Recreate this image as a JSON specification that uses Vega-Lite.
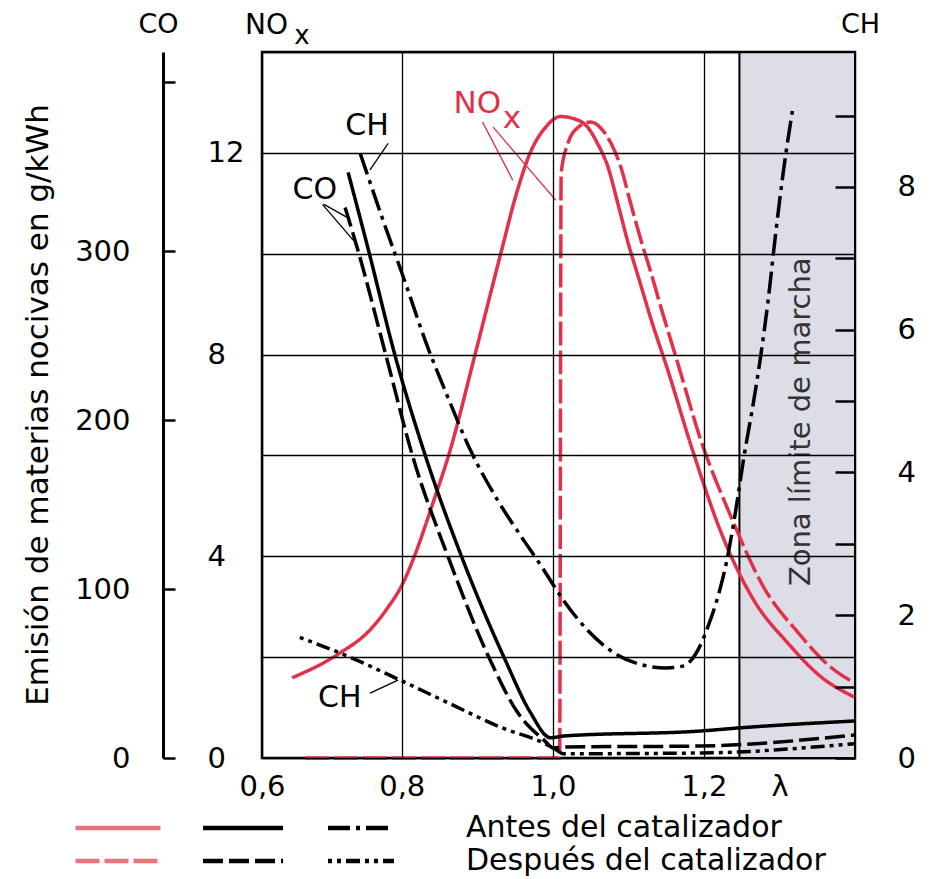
{
  "$schema": "https://vega.github.io/schema/vega-lite/v6.json",
  "width": 593,
  "height": 706,
  "autosize": {"type": "none"},
  "padding": {"left": 262, "top": 52, "right": 86, "bottom": 121},
  "background": "white",
  "config": {
    "font": "DejaVu Sans",
    "view": {"stroke": "black", "strokeWidth": 2.5},
    "axis": {
      "labelFont": "DejaVu Sans", "titleFont": "DejaVu Sans", "labelColor": "black", "titleColor": "black",
      "titleFontWeight": "normal", "labelFontSize": 29, "titleFontSize": 27,
      "gridColor": "black", "gridOpacity": 1, "gridWidth": 1.3, "domainColor": "black", "tickColor": "black"
    },
    "legend": {"labelFont": "DejaVu Sans", "labelColor": "black"}
  },
  "title": {
    "text": "Emisión de materias nocivas en g/kWh", "orient": "left", "anchor": "middle",
    "offset": 20, "fontSize": 31, "fontWeight": "normal", "font": "DejaVu Sans", "color": "black"
  },
  "datasets": {
    "nox": [
      {"lambda": 0.655, "valor": 1.59, "etapa": "Antes"},
      {"lambda": 0.718, "valor": 2.08, "etapa": "Antes"},
      {"lambda": 0.758, "valor": 2.54, "etapa": "Antes"},
      {"lambda": 0.78, "valor": 2.95, "etapa": "Antes"},
      {"lambda": 0.801, "valor": 3.45, "etapa": "Antes"},
      {"lambda": 0.818, "valor": 4.05, "etapa": "Antes"},
      {"lambda": 0.84, "valor": 5.0, "etapa": "Antes"},
      {"lambda": 0.864, "valor": 6.1, "etapa": "Antes"},
      {"lambda": 0.897, "valor": 8.0, "etapa": "Antes"},
      {"lambda": 0.931, "valor": 10.0, "etapa": "Antes"},
      {"lambda": 0.952, "valor": 11.2, "etapa": "Antes"},
      {"lambda": 0.97, "valor": 12.0, "etapa": "Antes"},
      {"lambda": 0.99, "valor": 12.5, "etapa": "Antes"},
      {"lambda": 1.01, "valor": 12.72, "etapa": "Antes"},
      {"lambda": 1.033, "valor": 12.65, "etapa": "Antes"},
      {"lambda": 1.046, "valor": 12.51, "etapa": "Antes"},
      {"lambda": 1.059, "valor": 12.19, "etapa": "Antes"},
      {"lambda": 1.073, "valor": 11.72, "etapa": "Antes"},
      {"lambda": 1.086, "valor": 11.0, "etapa": "Antes"},
      {"lambda": 1.099, "valor": 10.25, "etapa": "Antes"},
      {"lambda": 1.116, "valor": 9.4, "etapa": "Antes"},
      {"lambda": 1.13, "valor": 8.7, "etapa": "Antes"},
      {"lambda": 1.152, "valor": 7.7, "etapa": "Antes"},
      {"lambda": 1.185, "valor": 6.1, "etapa": "Antes"},
      {"lambda": 1.222, "valor": 4.5, "etapa": "Antes"},
      {"lambda": 1.266, "valor": 3.13, "etapa": "Antes"},
      {"lambda": 1.311, "valor": 2.28, "etapa": "Antes"},
      {"lambda": 1.355, "valor": 1.61, "etapa": "Antes"},
      {"lambda": 1.399, "valor": 1.21, "etapa": "Antes"},
      {"lambda": 0.672, "valor": 0, "etapa": "Después"},
      {"lambda": 1.009, "valor": 0, "etapa": "Después"},
      {"lambda": 1.011, "valor": 11.6, "etapa": "Después"},
      {"lambda": 1.02, "valor": 12.19, "etapa": "Después"},
      {"lambda": 1.033, "valor": 12.5, "etapa": "Después"},
      {"lambda": 1.05, "valor": 12.61, "etapa": "Después"},
      {"lambda": 1.063, "valor": 12.5, "etapa": "Después"},
      {"lambda": 1.077, "valor": 12.19, "etapa": "Después"},
      {"lambda": 1.09, "valor": 11.72, "etapa": "Después"},
      {"lambda": 1.103, "valor": 11.0, "etapa": "Después"},
      {"lambda": 1.116, "valor": 10.3, "etapa": "Después"},
      {"lambda": 1.13, "valor": 9.62, "etapa": "Después"},
      {"lambda": 1.143, "valor": 8.94, "etapa": "Después"},
      {"lambda": 1.165, "valor": 7.85, "etapa": "Después"},
      {"lambda": 1.196, "valor": 6.3, "etapa": "Después"},
      {"lambda": 1.236, "valor": 4.78, "etapa": "Después"},
      {"lambda": 1.279, "valor": 3.39, "etapa": "Después"},
      {"lambda": 1.325, "valor": 2.48, "etapa": "Después"},
      {"lambda": 1.368, "valor": 1.8, "etapa": "Después"},
      {"lambda": 1.399, "valor": 1.49, "etapa": "Después"}
    ],
    "co": [
      {"lambda": 0.729, "valor": 346.7, "etapa": "Antes"},
      {"lambda": 0.756, "valor": 300.6, "etapa": "Antes"},
      {"lambda": 0.791, "valor": 238.5, "etapa": "Antes"},
      {"lambda": 0.831, "valor": 179.3, "etapa": "Antes"},
      {"lambda": 0.88, "valor": 118.3, "etapa": "Antes"},
      {"lambda": 0.937, "valor": 58.0, "etapa": "Antes"},
      {"lambda": 0.97, "valor": 27.2, "etapa": "Antes"},
      {"lambda": 0.997, "valor": 12.0, "etapa": "Antes"},
      {"lambda": 1.014, "valor": 13.0, "etapa": "Antes"},
      {"lambda": 1.196, "valor": 16.0, "etapa": "Antes"},
      {"lambda": 1.246, "valor": 17.8, "etapa": "Antes"},
      {"lambda": 1.399, "valor": 21.9, "etapa": "Antes"},
      {"lambda": 0.725, "valor": 326.0, "etapa": "Después"},
      {"lambda": 0.742, "valor": 300.6, "etapa": "Después"},
      {"lambda": 0.779, "valor": 238.5, "etapa": "Después"},
      {"lambda": 0.814, "valor": 179.3, "etapa": "Después"},
      {"lambda": 0.862, "valor": 118.3, "etapa": "Después"},
      {"lambda": 0.917, "valor": 58.0, "etapa": "Después"},
      {"lambda": 0.953, "valor": 27.2, "etapa": "Después"},
      {"lambda": 0.988, "valor": 10.7, "etapa": "Después"},
      {"lambda": 1.001, "valor": 5.9, "etapa": "Después"},
      {"lambda": 1.014, "valor": 6.5, "etapa": "Después"},
      {"lambda": 1.196, "valor": 7.1, "etapa": "Después"},
      {"lambda": 1.399, "valor": 13.6, "etapa": "Después"}
    ],
    "ch": [
      {"lambda": 0.745, "valor": 8.47, "etapa": "Antes"},
      {"lambda": 0.775, "valor": 7.54, "etapa": "Antes"},
      {"lambda": 0.805, "valor": 6.65, "etapa": "Antes"},
      {"lambda": 0.831, "valor": 5.85, "etapa": "Antes"},
      {"lambda": 0.86, "valor": 5.08, "etapa": "Antes"},
      {"lambda": 0.891, "valor": 4.31, "etapa": "Antes"},
      {"lambda": 0.927, "valor": 3.61, "etapa": "Antes"},
      {"lambda": 0.957, "valor": 3.12, "etapa": "Antes"},
      {"lambda": 0.984, "valor": 2.7, "etapa": "Antes"},
      {"lambda": 1.014, "valor": 2.21, "etapa": "Antes"},
      {"lambda": 1.046, "valor": 1.79, "etapa": "Antes"},
      {"lambda": 1.086, "valor": 1.44, "etapa": "Antes"},
      {"lambda": 1.12, "valor": 1.3, "etapa": "Antes"},
      {"lambda": 1.15, "valor": 1.26, "etapa": "Antes"},
      {"lambda": 1.173, "valor": 1.29, "etapa": "Antes"},
      {"lambda": 1.192, "valor": 1.51, "etapa": "Antes"},
      {"lambda": 1.205, "valor": 1.83, "etapa": "Antes"},
      {"lambda": 1.218, "valor": 2.24, "etapa": "Antes"},
      {"lambda": 1.229, "valor": 2.7, "etapa": "Antes"},
      {"lambda": 1.24, "valor": 3.33, "etapa": "Antes"},
      {"lambda": 1.253, "valor": 4.22, "etapa": "Antes"},
      {"lambda": 1.266, "valor": 5.01, "etapa": "Antes"},
      {"lambda": 1.275, "valor": 5.62, "etapa": "Antes"},
      {"lambda": 1.285, "valor": 6.41, "etapa": "Antes"},
      {"lambda": 1.295, "valor": 7.35, "etapa": "Antes"},
      {"lambda": 1.306, "valor": 8.28, "etapa": "Antes"},
      {"lambda": 1.318, "valor": 9.12, "etapa": "Antes"},
      {"lambda": 0.665, "valor": 1.69, "etapa": "Después"},
      {"lambda": 0.732, "valor": 1.41, "etapa": "Después"},
      {"lambda": 0.798, "valor": 1.09, "etapa": "Después"},
      {"lambda": 0.864, "valor": 0.76, "etapa": "Después"},
      {"lambda": 0.931, "valor": 0.43, "etapa": "Después"},
      {"lambda": 0.988, "valor": 0.21, "etapa": "Después"},
      {"lambda": 1.001, "valor": 0.14, "etapa": "Después"},
      {"lambda": 1.014, "valor": 0.06, "etapa": "Después"},
      {"lambda": 1.196, "valor": 0.07, "etapa": "Después"},
      {"lambda": 1.399, "valor": 0.2, "etapa": "Después"}
    ]
  },
  "encoding": {
    "x": {
      "field": "lambda", "type": "quantitative",
      "scale": {"domain": [0.615, 1.4], "nice": false, "zero": false},
      "axis": {
        "title": null, "values": [0.615, 0.8, 1.0, 1.2, 1.3],
        "labelExpr": "datum.value < 0.7 ? '0,6' : (datum.value > 1.25 ? 'λ' : replace(format(datum.value, '.1f'), '.', ','))",
        "domain": false, "ticks": false, "grid": true,
        "gridOpacity": {"condition": {"test": "datum.value > 1.25", "value": 0}, "value": 1},
        "labelPadding": 14, "labelFlush": false, "zindex": 1
      }
    }
  },
  "layer": [
    {
      "data": {"values": [{"lambda": 1.247, "fin": 1.4}]},
      "mark": {"type": "rect", "fill": "#dcdde6", "stroke": "black", "strokeWidth": 2},
      "encoding": {"x2": {"field": "fin"}}
    },
    {
      "data": {"name": "nox"},
      "layer": [
        {
          "mark": {"type": "line", "color": "#e2304a", "strokeWidth": 3.5, "interpolate": "monotone"},
          "encoding": {
            "y": {
              "field": "valor", "type": "quantitative", "scale": {"domain": [0, 14], "nice": false},
              "axis": {
                "orient": "left", "values": [0, 2, 4, 6, 8, 10, 12, 14],
                "labelExpr": "datum.value % 4 == 0 && datum.value < 14 ? datum.label : ''",
                "domain": false, "ticks": false, "grid": true, "labelPadding": 55, "labelAlign": "left",
                "title": "NO", "titleFontSize": 28, "titleAngle": 0, "titleX": 4, "titleY": -27, "titleAlign": "center", "titleBaseline": "middle",
                "zindex": 1
              }
            },
            "strokeDash": {
              "field": "etapa", "type": "nominal",
              "scale": {"domain": ["Antes", "Después"], "range": [[1, 0], [24, 5]]},
              "legend": {
                "orient": "none", "legendX": -159, "legendY": 761, "direction": "vertical", "title": null,
                "symbolType": "M-4.25,0H4.25", "symbolSize": 400, "symbolStrokeWidth": 4.5, "symbolStrokeColor": "#e8747c",
                "labelExpr": "' '", "labelFontSize": 30, "padding": 0, "rowPadding": 3
              }
            }
          }
        },
        {
          "data": {"values": [
            {"lambda": 0.907, "valor": 12.61, "id": "a"}, {"lambda": 0.947, "valor": 11.46, "id": "a"},
            {"lambda": 0.921, "valor": 12.51, "id": "b"}, {"lambda": 1.004, "valor": 11.06, "id": "b"}
          ]},
          "mark": {"type": "line", "color": "#e2304a", "strokeWidth": 1.3},
          "encoding": {"y": {"field": "valor", "type": "quantitative"}, "detail": {"field": "id"}}
        },
        {
          "data": {"values": [
            {"lambda": 0.9, "valor": 12.97, "t": "NO"},
            {"lambda": 0.946, "valor": 12.68, "t": "x"}
          ]},
          "mark": {"type": "text", "color": "#e2304a", "fontSize": 31, "font": "DejaVu Sans"},
          "encoding": {"y": {"field": "valor", "type": "quantitative"}, "text": {"field": "t"}}
        },
        {
          "data": {"values": [{"lambda": 0.668, "valor": 14.32, "t": "x"}]},
          "mark": {"type": "text", "color": "black", "fontSize": 26, "font": "DejaVu Sans"},
          "encoding": {"y": {"field": "valor", "type": "quantitative"}, "text": {"field": "t"}}
        }
      ]
    },
    {
      "data": {"name": "co"},
      "layer": [
        {
          "mark": {"type": "line", "color": "black", "strokeWidth": 3.5, "interpolate": "monotone"},
          "encoding": {
            "y": {
              "field": "valor", "type": "quantitative", "scale": {"domain": [0, 418], "nice": false},
              "axis": {
                "orient": "left", "offset": 99, "values": [0, 100, 200, 300, 400],
                "labelExpr": "datum.value == 400 ? '' : datum.label",
                "domain": true, "domainWidth": 3, "ticks": true, "tickSize": -12, "tickWidth": 2.5,
                "grid": false, "labelPadding": 45,
                "title": "CO", "titleAngle": 0, "titleX": -5, "titleY": -28, "titleAlign": "center", "titleBaseline": "middle"
              }
            },
            "strokeDash": {
              "field": "etapa", "type": "nominal",
              "scale": {"domain": ["Antes", "Después"], "range": [[1, 0], [20, 6]]},
              "legend": {
                "orient": "none", "legendX": -34, "legendY": 761, "direction": "vertical", "title": null,
                "symbolType": "M-4,0H4", "symbolSize": 400, "symbolStrokeWidth": 4.5, "symbolStrokeColor": "black",
                "labelExpr": "' '", "labelFontSize": 30, "padding": 0, "rowPadding": 3
              }
            }
          }
        },
        {
          "data": {"values": [
            {"lambda": 0.695, "valor": 327.8, "id": "a"}, {"lambda": 0.736, "valor": 306.5, "id": "a"},
            {"lambda": 0.697, "valor": 327.8, "id": "b"}, {"lambda": 0.73, "valor": 319.5, "id": "b"}
          ]},
          "mark": {"type": "line", "color": "black", "strokeWidth": 1.3},
          "encoding": {"y": {"field": "valor", "type": "quantitative"}, "detail": {"field": "id"}}
        },
        {
          "data": {"values": [{"lambda": 0.685, "valor": 336, "t": "CO"}]},
          "mark": {"type": "text", "color": "black", "fontSize": 30, "font": "DejaVu Sans"},
          "encoding": {"y": {"field": "valor", "type": "quantitative"}, "text": {"field": "t"}}
        }
      ]
    },
    {
      "data": {"name": "ch"},
      "layer": [
        {
          "mark": {"type": "line", "color": "black", "strokeWidth": 3.5, "interpolate": "monotone"},
          "encoding": {
            "y": {
              "field": "valor", "type": "quantitative", "scale": {"domain": [0, 9.89], "nice": false},
              "axis": {
                "orient": "right", "values": [0, 1, 2, 3, 4, 5, 6, 7, 8, 9],
                "labelExpr": "datum.value % 2 == 0 ? format(datum.value, 'd') : ''",
                "domain": false, "ticks": true, "tickSize": -20, "tickWidth": 2.5,
                "grid": false, "labelPadding": 62, "zindex": 1,
                "title": "CH", "titleAngle": 0, "titleX": 5, "titleY": -28, "titleAlign": "center", "titleBaseline": "middle"
              }
            },
            "strokeDash": {
              "field": "etapa", "type": "nominal",
              "scale": {"domain": ["Antes", "Después"], "range": [[22, 6, 4, 6], [4, 5, 4, 5, 14, 5]]},
              "legend": {
                "orient": "none", "legendX": 84, "legendY": 761, "direction": "vertical", "title": null,
                "symbolType": "M-3.3,0H3.3", "symbolSize": 400, "symbolStrokeWidth": 4.5, "symbolStrokeColor": "black",
                "labelExpr": "datum.label == 'Antes' ? 'Antes del catalizador' : 'Después del catalizador'",
                "labelFontSize": 30, "labelLimit": 700, "labelOffset": 90, "padding": 0, "rowPadding": 3
              }
            }
          }
        },
        {
          "data": {"values": [
            {"lambda": 0.782, "valor": 8.61, "id": "a"}, {"lambda": 0.758, "valor": 8.24, "id": "a"},
            {"lambda": 0.758, "valor": 0.91, "id": "b"}, {"lambda": 0.795, "valor": 1.09, "id": "b"}
          ]},
          "mark": {"type": "line", "color": "black", "strokeWidth": 1.3},
          "encoding": {"y": {"field": "valor", "type": "quantitative"}, "detail": {"field": "id"}}
        },
        {
          "data": {"values": [
            {"lambda": 0.754, "valor": 8.85, "t": "CH"},
            {"lambda": 0.718, "valor": 0.84, "t": "CH"}
          ]},
          "mark": {"type": "text", "color": "black", "fontSize": 30, "font": "DejaVu Sans"},
          "encoding": {"y": {"field": "valor", "type": "quantitative"}, "text": {"field": "t"}}
        },
        {
          "data": {"values": [{"lambda": 1.329, "valor": 4.71, "t": "Zona límite de marcha"}]},
          "mark": {"type": "text", "color": "#333333", "fontSize": 29, "angle": 270, "font": "DejaVu Sans"},
          "encoding": {"y": {"field": "valor", "type": "quantitative"}, "text": {"field": "t"}}
        }
      ]
    }
  ],
  "resolve": {
    "scale": {"y": "independent", "strokeDash": "independent"},
    "axis": {"y": "independent"},
    "legend": {"strokeDash": "independent"}
  }
}
